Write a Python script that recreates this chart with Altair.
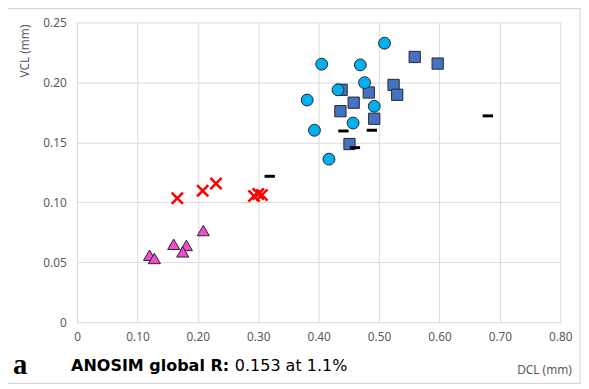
import altair as alt
import pandas as pd

# ---- data ----
circle_x = [0.509, 0.405, 0.469, 0.476, 0.432, 0.381, 0.492, 0.457, 0.393, 0.417]
circle_y = [0.2327, 0.2152, 0.2146, 0.1998, 0.1938, 0.1853, 0.1801, 0.1661, 0.1601, 0.1360]

square_x = [0.559, 0.597, 0.438, 0.524, 0.530, 0.483, 0.458, 0.436, 0.492, 0.451]
square_y = [0.2212, 0.2157, 0.1938, 0.1979, 0.1897, 0.1916, 0.1831, 0.1760, 0.1697, 0.1486]

dash_x = [0.680, 0.441, 0.488, 0.460, 0.319]
dash_y = [0.1721, 0.1595, 0.1601, 0.1456, 0.1217]

cross_x = [0.166, 0.208, 0.230, 0.293, 0.300, 0.306]
cross_y = [0.1034, 0.1096, 0.1157, 0.1053, 0.1070, 0.1061]

tri_x = [0.209, 0.160, 0.181, 0.175, 0.120, 0.128]
tri_y = [0.0765, 0.0650, 0.0641, 0.0587, 0.0559, 0.0532]

x_ticks = [0, 0.1, 0.2, 0.3, 0.4, 0.5, 0.6, 0.7, 0.8]
y_ticks = [0, 0.05, 0.10, 0.15, 0.20, 0.25]

x_title = "DCL (mm)"
y_title = "VCL (mm)"
panel_letter = "a"
stat_bold = "ANOSIM global R:"
stat_plain = "0.153 at 1.1%"


def frame(xs, ys):
    return pd.DataFrame({"x": xs, "y": ys})


W, H = 490, 304
FONT = "Noto Sans"
GREY = "#595959"
GRID = "#d9d9d9"

label_expr = "datum.value == 0 ? '0' : format(datum.value, '.2f')"

xenc = alt.X("x:Q", scale=alt.Scale(domain=[0, 0.8], nice=False, zero=True),
             axis=alt.Axis(values=x_ticks, labelExpr=label_expr, title=None,
                           grid=True, gridColor=GRID, domain=False, ticks=False,
                           labelPadding=10, labelFont=FONT, labelFontSize=12,
                           labelColor=GREY, labelFlush=False))
yenc = alt.Y("y:Q", scale=alt.Scale(domain=[0, 0.25], nice=False, zero=True),
             axis=alt.Axis(values=y_ticks, labelExpr=label_expr, title=None,
                           grid=True, gridColor=GRID, domain=False, ticks=False,
                           labelPadding=11, labelFont=FONT, labelFontSize=12,
                           labelColor=GREY, labelFlush=False))

base_axes = alt.Chart(frame(x_ticks, [0] * len(x_ticks))).mark_point(opacity=0).encode(x=xenc, y=yenc)

triangles = alt.Chart(frame(tri_x, tri_y)).mark_point(
    shape="triangle-up", filled=True, fill="#f04cd0", stroke="#262626",
    strokeWidth=1, size=150, opacity=1
).encode(x="x:Q", y="y:Q")

crosses = alt.Chart(frame(cross_x, cross_y)).mark_point(
    shape="M-1,-1L1,1M1,-1L-1,1", filled=False, stroke="#ff0000",
    strokeWidth=2.6, size=130, opacity=1
).encode(x="x:Q", y="y:Q")

squares = alt.Chart(frame(square_x, square_y)).mark_point(
    shape="square", filled=True, fill="#4472c4", stroke="#262626",
    strokeWidth=1, size=130, opacity=1
).encode(x="x:Q", y="y:Q")

circles = alt.Chart(frame(circle_x, circle_y)).mark_point(
    shape="circle", filled=True, fill="#00b0f0", stroke="#262626",
    strokeWidth=1, size=145, opacity=1
).encode(x="x:Q", y="y:Q")

dashes = alt.Chart(frame(dash_x, dash_y)).mark_point(
    shape="M-1,0L1,0", filled=False, stroke="#000000",
    strokeWidth=3, size=110, opacity=1
).encode(x="x:Q", y="y:Q")

one = pd.DataFrame({"k": [0]})

border = alt.Chart(one).mark_rect(fill=None, stroke=GRID, strokeWidth=1.2).encode(
    x=alt.value(-71), x2=alt.value(510), y=alt.value(-14), y2=alt.value(366))

ytitle = alt.Chart(one).mark_text(font=FONT, fontSize=12, color=GREY, angle=270,
                                  align="center", baseline="middle").encode(
    x=alt.value(-53), y=alt.value(29), text=alt.value(y_title))

xtitle = alt.Chart(one).mark_text(font=FONT, fontSize=12, color=GREY,
                                  align="center", baseline="middle").encode(
    x=alt.value(474), y=alt.value(48 + H), text=alt.value(x_title))

letter = alt.Chart(one).mark_text(font="Liberation Serif", fontSize=29, fontWeight="bold",
                                  color="#000000", align="left", baseline="alphabetic").encode(
    x=alt.value(-65), y=alt.value(52 + H), text=alt.value(panel_letter))

bold_txt = alt.Chart(one).mark_text(font="DejaVu Sans", fontSize=16.2, fontWeight="bold",
                                    color="#000000", align="left", baseline="middle").encode(
    x=alt.value(-6), y=alt.value(44 + H), text=alt.value(stat_bold))

plain_txt = alt.Chart(one).mark_text(font="DejaVu Sans", fontSize=16.2,
                                     color="#000000", align="left", baseline="middle").encode(
    x=alt.value(160), y=alt.value(44 + H), text=alt.value(stat_plain))

chart = alt.layer(
    border, base_axes, triangles, crosses, squares, circles, dashes,
    ytitle, xtitle, letter, bold_txt, plain_txt
).properties(
    width=W, height=H,
    autosize=alt.AutoSizeParams(type="none"),
    padding={"left": 70, "top": 12, "right": 21, "bottom": 63},
    background="white",
).configure_view(stroke=None)

chart.save("out.html", embed_options={"renderer": "svg", "actions": False})
